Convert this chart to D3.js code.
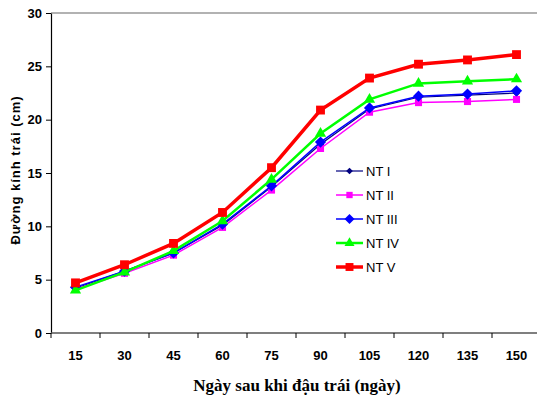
<!DOCTYPE html>
<html>
<head>
<meta charset="utf-8">
<script src="https://cdn.jsdelivr.net/npm/d3@7"></script>
<style>
body { margin: 0; background: #fff; }
svg { display: block; }
</style>
</head>
<body>
<svg width="537" height="400"></svg>
<script>
var days = ["15", "30", "45", "60", "75", "90", "105", "120", "135", "150"];
var yTicks = [0, 5, 10, 15, 20, 25, 30];

var nt1 = [4.2, 5.8, 7.5, 10.1, 13.7, 17.7, 21.0, 22.1, 22.3, 22.5];
var nt2 = [4.1, 5.6, 7.3, 9.9, 13.4, 17.3, 20.7, 21.6, 21.7, 21.9];
var nt3 = [4.3, 5.8, 7.5, 10.2, 13.8, 17.9, 21.1, 22.2, 22.4, 22.7];
var nt4 = [4.0, 5.7, 7.7, 10.5, 14.4, 18.7, 21.9, 23.4, 23.6, 23.8];
var nt5 = [4.7, 6.4, 8.4, 11.3, 15.5, 20.9, 23.9, 25.2, 25.6, 26.1];

var seriesNames = ["NT I", "NT II", "NT III", "NT IV", "NT V"];

var svg = d3.select('svg');

var mLeft = 51, mRight = 541, mTop = 13, mBottom = 333;

var x = d3.scaleBand().domain(days).range([mLeft, mRight]);
var y = d3.scaleLinear().domain([0, 30]).range([mBottom, mTop]);

// styles per series
var styles = [
  {data: nt1, color: "#000080", width: 1.2, symbol: d3.symbolDiamond2, size: 36},
  {data: nt2, color: "#ff00ff", width: 1.5, symbol: d3.symbolSquare2, size: 64},
  {data: nt3, color: "#0000ff", width: 1.5, symbol: d3.symbolDiamond2, size: 80},
  {data: nt4, color: "#00ff00", width: 2.5, symbol: d3.symbolTriangle2, size: 90},
  {data: nt5, color: "#ff0000", width: 3.5, symbol: d3.symbolSquare2, size: 100}
];

//top border line
svg.append("line")
    .attr("x1", mLeft).attr("x2", mRight)
    .attr("y1", y(30)).attr("y2", y(30))
    .attr("stroke", "#999").attr("stroke-width", 1.5);

//y axis
var yAxis = svg.append("g")
    .attr("transform", "translate(" + mLeft + ",0)")
    .call(d3.axisLeft(y).tickValues(yTicks).tickSize(5).tickSizeOuter(0));
yAxis.select(".domain").attr("stroke", "#000").attr("stroke-width", 1.2);
yAxis.selectAll(".tick line").attr("stroke", "#000");
yAxis.selectAll("text")
    .attr("x", -9)
    .style("font-family", "Liberation Sans, Arial, sans-serif")
    .style("font-weight", "bold")
    .style("font-size", "13px")
    .attr("fill", "#000");

//x axis with ticks at category boundaries
svg.append("line")
    .attr("x1", mLeft).attr("x2", mRight)
    .attr("y1", mBottom).attr("y2", mBottom)
    .attr("stroke", "#555").attr("stroke-width", 1.5);

svg.selectAll(".xtick")
    .data(days)
    .enter().append("line")
    .attr("class", "xtick")
    .attr("x1", function(d) { return x(d); })
    .attr("x2", function(d) { return x(d); })
    .attr("y1", mBottom).attr("y2", mBottom + 5)
    .attr("stroke", "#000");

svg.selectAll(".xlabel")
    .data(days)
    .enter().append("text")
    .attr("class", "xlabel")
    .attr("x", function(d) { return x(d) + x.bandwidth() / 2; })
    .attr("y", 360)
    .attr("text-anchor", "middle")
    .style("font-family", "Liberation Sans, Arial, sans-serif")
    .style("font-weight", "bold")
    .style("font-size", "13px")
    .text(function(d) { return d; });

//series lines and markers
var line = d3.line()
    .x(function(d, i) { return x(days[i]) + x.bandwidth() / 2; })
    .y(function(d) { return y(d); });

styles.forEach(function(s) {
  svg.append("path")
      .datum(s.data)
      .attr("d", line)
      .attr("fill", "none")
      .attr("stroke", s.color)
      .attr("stroke-width", s.width);
  svg.selectAll(null)
      .data(s.data)
      .enter().append("path")
      .attr("d", d3.symbol().type(s.symbol).size(s.size))
      .attr("transform", function(d, i) {
        return "translate(" + (x(days[i]) + x.bandwidth() / 2) + "," + y(d) + ")";
      })
      .attr("fill", s.color);
});

//legend
var legend = svg.selectAll(".legend")
    .data(styles)
    .enter().append("g")
    .attr("class", "legend")
    .attr("transform", function(d, i) { return "translate(336," + (171 + i * 24) + ")"; });

legend.append("line")
    .attr("x1", 0).attr("x2", 27)
    .attr("stroke", function(d) { return d.color; })
    .attr("stroke-width", function(d) { return d.width; });

legend.append("path")
    .attr("d", function(d) { return d3.symbol().type(d.symbol).size(d.size * 0.8)(); })
    .attr("transform", "translate(13.5,0)")
    .attr("fill", function(d) { return d.color; });

legend.append("text")
    .attr("x", 30)
    .attr("y", 5)
    .style("font-family", "Liberation Sans, Arial, sans-serif")
    .style("font-size", "13px")
    .text(function(d, i) { return seriesNames[i]; });

//axis titles
svg.append("text")
    .attr("transform", "translate(20,170) rotate(-90)")
    .attr("text-anchor", "middle")
    .style("font-family", "Liberation Sans, Arial, sans-serif")
    .style("font-weight", "bold")
    .style("font-size", "13px")
    .style("letter-spacing", "1px")
    .text("Đường kính trái (cm)");

svg.append("text")
    .attr("x", 297)
    .attr("y", 391)
    .attr("text-anchor", "middle")
    .style("font-family", "Liberation Serif, Times New Roman, serif")
    .style("font-weight", "bold")
    .style("font-size", "17px")
    .text("Ngày sau khi đậu trái (ngày)");
</script>
</body>
</html>
